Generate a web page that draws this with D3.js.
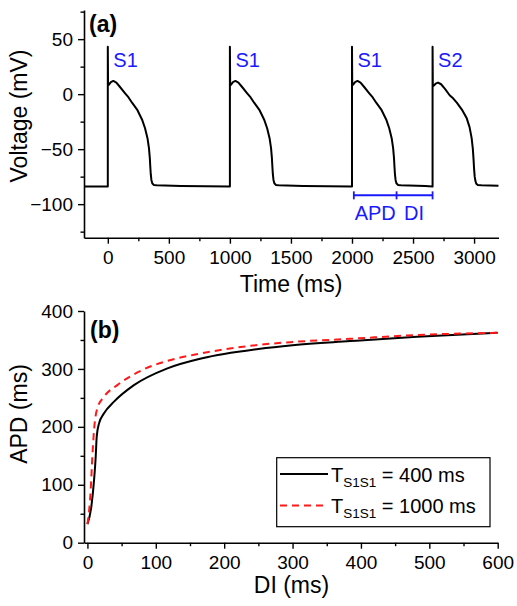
<!DOCTYPE html>
<html>
<head>
<meta charset="utf-8">
<script src="https://cdn.jsdelivr.net/npm/d3@7/dist/d3.min.js"></script>
<style>
  html, body { margin: 0; padding: 0; background: #fff; }
  svg { display: block; font-family: Arial, "Liberation Sans", Helvetica, sans-serif; }
</style>
</head>
<body>
<svg id="chart" width="517" height="606"></svg>
<script>
// ---------------- Data: panel (a) action potential train ----------------
const restV = -84;
const traceStart = -195;
const traceEnd = 3200;
const s1Starts = [0, 1000, 2000];
const s2Start = 2660;
// S1 action potential shape (ms after stimulus, mV)
const s1ShapeT = [0, 0, 2, 8, 25, 45, 70, 100, 140, 170, 200, 240, 280, 305, 325, 337, 344, 348, 352, 357, 364, 376, 400, 600];
const s1ShapeV = [-84, 43, 10, 8.5, 11, 12, 10.5, 6.5, 1, -3, -8, -14, -23, -31, -40, -49, -58, -66, -73, -78, -81, -82.5, -82.8, -83.4];
// S2 action potential shape (slightly shorter)
const s2ShapeT = [0, 0, 2, 8, 25, 45, 70, 100, 140, 170, 200, 240, 280, 303, 320, 330, 336, 340, 345, 351, 358, 370, 400, 540];
const s2ShapeV = [-84, 43, 9, 7.5, 9.5, 10.5, 9, 5, -1, -4, -8, -14, -22, -30, -40, -50, -60, -68, -75, -79, -81.5, -82.5, -82.8, -83.3];
const stimLabels = ["S1", "S1", "S1", "S2"];
// APD / DI markers (ms)
const apdDiMarks = [2015, 2365, 2660];
const apdDiLevel = -92;
const apdDiLabels = ["APD", "DI"];

// Axis ticks panel (a)
const aXTicks = [0, 500, 1000, 1500, 2000, 2500, 3000];
const aXMinor = [250, 750, 1250, 1750, 2250, 2750];
const aYTicks = [-100, -50, 0, 50];
const aYMinor = [-125, -75, -25, 25, 75];

// ---------------- Data: panel (b) restitution curves ----------------
const diBlack = [0, 5.7, 9.7, 12.1, 13.6, 17, 24.3, 38.9, 68, 117, 168, 250, 300, 384, 482, 600];
const apdBlack = [32, 62, 108, 148, 183, 206, 223.5, 243.5, 272, 301, 318.5, 334.5, 341, 348, 355.5, 362.5];
const diRed = [0, 4.8, 7.2, 9.7, 14.5, 24.3, 43.7, 82.8, 122, 163, 250, 300, 384, 482, 600];
const apdRed = [32, 91, 148.5, 194.5, 232, 252, 272, 299.5, 315.5, 326, 341.5, 346.5, 352, 358.5, 362.5];
const legendMain = ["T", "T"];
const legendSub = ["S1S1", "S1S1"];
const legendValue = [" = 400 ms", " = 1000 ms"];

const bXTicks = [0, 100, 200, 300, 400, 500, 600];
const bXMinor = [50, 150, 250, 350, 450, 550];
const bYTicks = [0, 100, 200, 300, 400];
const bYMinor = [50, 150, 250, 350];

// ---------------- Drawing ----------------
const svg = d3.select("#chart");
svg.append("rect").attr("width", 517).attr("height", 606).attr("fill", "#fff");

const blue = "#1a1aff";
const tickFont = 19;

function drawAxes(g, x, y, xt, xm, yt, ym) {
  g.append("g").attr("transform", `translate(0,${y.range()[0]})`)
    .call(d3.axisBottom(x).tickValues(xt).tickSize(6).tickPadding(7).tickSizeOuter(0).tickFormat(d3.format("d")));
  const xAxisMinor = g.append("g").attr("transform", `translate(0,${y.range()[0]})`)
    .call(d3.axisBottom(x).tickValues(xm).tickSize(3.5).tickSizeOuter(0).tickFormat(""));
  xAxisMinor.select(".domain").remove();
  g.append("g").attr("transform", `translate(${x.range()[0]},0)`)
    .call(d3.axisLeft(y).tickValues(yt).tickSize(6).tickPadding(5).tickSizeOuter(0).tickFormat(d3.format("d")));
  const yAxisMinor = g.append("g").attr("transform", `translate(${x.range()[0]},0)`)
    .call(d3.axisLeft(y).tickValues(ym).tickSize(3.5).tickSizeOuter(0).tickFormat(""));
  yAxisMinor.select(".domain").remove();
  g.selectAll(".domain").attr("stroke", "#000").attr("stroke-width", 1.6);
  g.selectAll(".tick line").attr("stroke", "#000").attr("stroke-width", 1.4);
  g.selectAll(".tick text").attr("font-size", tickFont).attr("fill", "#000")
    .attr("font-family", "Arial, 'Liberation Sans', sans-serif");
}

// ---- Panel (a)
const xa = d3.scaleLinear().domain([traceStart, traceEnd]).range([84, 498.5]);
const ya = d3.scaleLinear().domain([-130.5, 76.5]).range([237.7, 10]);
const ga = svg.append("g");

const trace = [[traceStart, restV]];
s1Starts.forEach(s => {
  s1ShapeT.forEach((t, i) => trace.push([s + t, s1ShapeV[i]]));
});
s2ShapeT.forEach((t, i) => trace.push([s2Start + t, s2ShapeV[i]]));
trace.push([traceEnd, s2ShapeV[s2ShapeV.length - 1]]);

const linea = d3.line().x(d => xa(d[0])).y(d => ya(d[1])).curve(d3.curveLinear);
ga.append("path").datum(trace).attr("d", linea)
  .attr("fill", "none").attr("stroke", "#000").attr("stroke-width", 2).attr("stroke-linejoin", "round");

drawAxes(ga, xa, ya, aXTicks, aXMinor, aYTicks, aYMinor);

const stimTimes = s1Starts.concat([s2Start]);
ga.selectAll("text.stim").data(stimTimes).enter().append("text")
  .attr("class", "stim")
  .attr("x", d => xa(d) + 5.5).attr("y", ya(25))
  .attr("font-size", 20).attr("fill", blue)
  .text((d, i) => stimLabels[i]);

ga.append("line").attr("x1", xa(apdDiMarks[0])).attr("x2", xa(apdDiMarks[2]))
  .attr("y1", ya(apdDiLevel)).attr("y2", ya(apdDiLevel))
  .attr("stroke", blue).attr("stroke-width", 2);
ga.selectAll("line.mk").data(apdDiMarks).enter().append("line")
  .attr("class", "mk")
  .attr("x1", d => xa(d)).attr("x2", d => xa(d))
  .attr("y1", ya(apdDiLevel) - 4).attr("y2", ya(apdDiLevel) + 4)
  .attr("stroke", blue).attr("stroke-width", 1.8);
ga.selectAll("text.apd").data(apdDiLabels).enter().append("text")
  .attr("class", "apd")
  .attr("x", (d, i) => (xa(apdDiMarks[i]) + xa(apdDiMarks[i + 1])) / 2 + (i === 0 ? 0 : -0.5))
  .attr("y", 220)
  .attr("text-anchor", "middle").attr("font-size", 20).attr("fill", blue)
  .text(d => d);

ga.append("text").attr("x", 89).attr("y", 32).attr("font-size", 23).attr("font-weight", "bold").text("(a)");
ga.append("text").attr("x", 291).attr("y", 292).attr("text-anchor", "middle").attr("font-size", 23).text("Time (ms)");
ga.append("text").attr("transform", "translate(27,116) rotate(-90)").attr("text-anchor", "middle")
  .attr("font-size", 23).text("Voltage (mV)");

// ---- Panel (b)
const xb = d3.scaleLinear().domain([-5, 600]).range([84, 497.7]);
const yb = d3.scaleLinear().domain([0, 400]).range([542.7, 311]);
const gb = svg.append("g");

const lineb = d3.line().x(d => xb(d[0])).y(d => yb(d[1])).curve(d3.curveMonotoneX);
const blackPts = diBlack.map((d, i) => [d, apdBlack[i]]);
const redPts = diRed.map((d, i) => [d, apdRed[i]]);

gb.append("path").datum(blackPts).attr("d", lineb)
  .attr("fill", "none").attr("stroke", "#000").attr("stroke-width", 2);
gb.append("path").datum(redPts).attr("d", lineb)
  .attr("fill", "none").attr("stroke", "#ff1a1a").attr("stroke-width", 2).attr("stroke-dasharray", "7,5");

drawAxes(gb, xb, yb, bXTicks, bXMinor, bYTicks, bYMinor);

gb.append("text").attr("x", 90).attr("y", 338).attr("font-size", 23).attr("font-weight", "bold").text("(b)");
gb.append("text").attr("x", 291.5).attr("y", 593).attr("text-anchor", "middle").attr("font-size", 23).text("DI (ms)");
gb.append("text").attr("transform", "translate(27,414) rotate(-90)").attr("text-anchor", "middle")
  .attr("font-size", 23).text("APD (ms)");

const lg = gb.append("g");
lg.append("rect").attr("x", 276.7).attr("y", 457.7).attr("width", 213.3).attr("height", 69)
  .attr("fill", "#fff").attr("stroke", "#000").attr("stroke-width", 1.2);
const legStyles = [{ c: "#000", dash: null }, { c: "#ff1a1a", dash: "7,5" }];
const rowY = [474, 505.5];
legStyles.forEach((s, i) => {
  lg.append("line").attr("x1", 280).attr("x2", 328).attr("y1", rowY[i]).attr("y2", rowY[i])
    .attr("stroke", s.c).attr("stroke-width", 2).attr("stroke-dasharray", s.dash);
  const t = lg.append("text").attr("x", 331).attr("y", rowY[i] + 7.5).attr("font-size", 20);
  t.append("tspan").text(legendMain[i]);
  t.append("tspan").attr("dy", 5).attr("font-size", 13.5).text(legendSub[i]);
  t.append("tspan").attr("dy", -5).text(legendValue[i]);
});
</script>
</body>
</html>
